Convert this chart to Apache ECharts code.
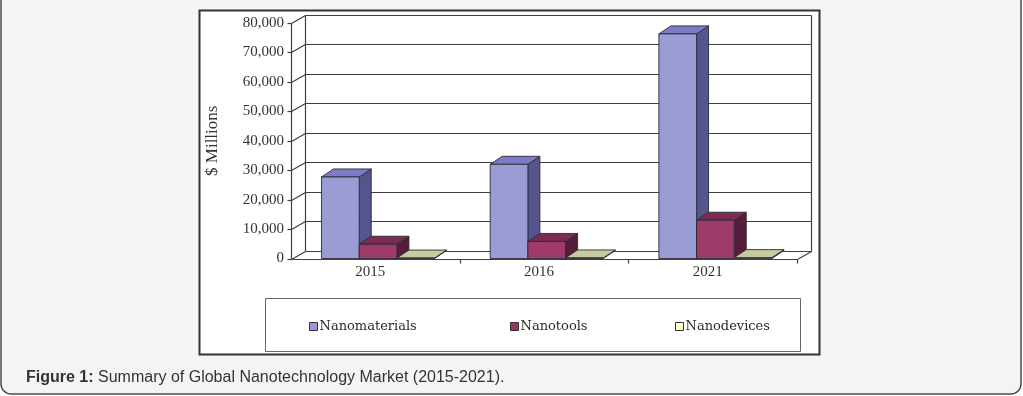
<!DOCTYPE html>
<html><head><meta charset="utf-8">
<script src="https://cdn.jsdelivr.net/npm/echarts@6/dist/echarts.min.js"></script>
<style>html,body{margin:0;padding:0;background:#fff}#c{width:1023px;height:396px}</style>
</head><body><div id="c"></div>
<script>
// ---- data ----
const categories = ['2015', '2016', '2021'];
const seriesNames = ['Nanomaterials', 'Nanotools', 'Nanodevices'];
const nanomaterials = [27700, 32000, 76300];
const nanotools = [4850, 5800, 13000];
const nanodevices = [150, 200, 300];
const yMin = 0, yMax = 80000, yStep = 10000;
const yAxisTitle = '$ Millions';
const captionBold = 'Figure 1:';
const captionText = ' Summary of Global Nanotechnology Market (2015-2021).';

// ---- style ----
const DX = 14, DY = -8;      // wall depth
const BDX = 12, BDY = -8;    // bar depth
const BAR_OFF = 0.181, BAR_W = 0.2235;
const EDGE = '#2b2b3a';
const palette = [
  { front: '#9c9cd4', top: '#7b7bc6', side: '#55558e', legend: '#9999dd' },
  { front: '#9e3b6b', top: '#7c2b52', side: '#561d3a', legend: '#993366' },
  { front: '#ffffcc', top: '#c9c99e', side: '#9c9c78', legend: '#ffffcc' }
];
const serif = 'Liberation Serif';

function frameRender(params, api) {
  const band = api.size([1, 0])[0];
  const L = Math.round(api.coord([0, 0])[0] - band / 2) + 0.5;
  const R = Math.round(api.coord([categories.length - 1, 0])[0] + band / 2) + 0.5;
  const children = [];
  const ln = (x1, y1, x2, y2) => children.push({ type: 'line', shape: { x1, y1, x2, y2 }, style: { stroke: '#404040', lineWidth: 1.2 } });
  const yOf = v => Math.round(api.coord([0, v])[1]) + 0.5;
  const y0 = yOf(yMin), yT = yOf(yMax);
  for (let v = yMin; v <= yMax; v += yStep) {
    const y = yOf(v);
    ln(L + DX, y + DY, R + DX, y + DY);
    ln(L, y, L + DX, y + DY);
    ln(L - 4, y, L, y);
  }
  ln(L, y0, L, yT);
  ln(L + DX, y0 + DY, L + DX, yT + DY);
  ln(R + DX, y0 + DY, R + DX, yT + DY);
  ln(L, y0, R, y0);
  ln(R, y0, R + DX, y0 + DY);
  for (let k = 1; k <= categories.length; k++) {
    const x = Math.round(L - 0.5 + k * band) + 0.5;
    ln(x, y0, x, y0 + 4);
  }
  return { type: 'group', children };
}

function barRender(si) {
  const c = palette[si];
  return function (params, api) {
    const cat = api.value(0), val = api.value(1);
    const band = api.size([1, 0])[0];
    const base = api.coord([cat, 0]);
    const top = api.coord([cat, val]);
    const w = band * BAR_W;
    const x0 = base[0] - band / 2 + band * BAR_OFF + si * w;
    const yb = base[1], yt = top[1];
    const st = f => ({ fill: f, stroke: EDGE, lineWidth: 0.9 });
    return {
      type: 'group', children: [
        { type: 'polygon', shape: { points: [[x0 + w, yt], [x0 + w, yb], [x0 + w + BDX, yb + BDY], [x0 + w + BDX, yt + BDY]] }, style: st(c.side) },
        { type: 'polygon', shape: { points: [[x0, yt], [x0 + w, yt], [x0 + w + BDX, yt + BDY], [x0 + BDX, yt + BDY]] }, style: st(c.top) },
        { type: 'rect', shape: { x: x0, y: yt, width: w, height: Math.max(0, yb - yt) }, style: st(c.front) }
      ]
    };
  };
}

const seriesData = [nanomaterials, nanotools, nanodevices];

const chart = echarts.init(document.getElementById('c'), null, { renderer: 'canvas' });
chart.setOption({
  animation: false,
  backgroundColor: '#ffffff',
  graphic: [
    { type: 'rect', z: 0, shape: { x: 1, y: -20, width: 1020, height: 414, r: 10 }, style: { fill: '#f3f5f5', stroke: '#4a4a4a', lineWidth: 1.5 } },
    { type: 'rect', z: 0, shape: { x: 199.5, y: 10.5, width: 620, height: 344 }, style: { fill: '#ffffff', stroke: '#333', lineWidth: 2 } },
    { type: 'rect', z: 0, shape: { x: 265.5, y: 298.5, width: 535, height: 53 }, style: { fill: '#ffffff', stroke: '#666', lineWidth: 1 } }
  ],
  title: {
    text: '{b|' + captionBold + '}' + captionText,
    left: 26, top: 370, padding: 0,
    textStyle: {
      fontFamily: 'Liberation Sans', fontSize: 16, fontWeight: 'normal', color: '#333',
      rich: { b: { fontFamily: 'Liberation Sans', fontSize: 16, fontWeight: 'bold', color: '#333' } }
    }
  },
  legend: [
    { left: 309, top: 320 },
    { left: 510, top: 320 },
    { left: 675, top: 320 }
  ].map((p, i) => ({
    data: [seriesNames[i]], left: p.left, top: p.top, padding: 0, icon: 'rect',
    itemWidth: 8, itemHeight: 8,
    itemStyle: { borderColor: '#333', borderWidth: 1 },
    textStyle: { fontFamily: 'DejaVu Serif', fontSize: 13, color: '#2a2a2a', padding: [0, 0, 0, -3] }
  })),
  grid: { left: 291, top: 23, width: 506, height: 235.5, containLabel: false },
  xAxis: {
    type: 'category', data: categories,
    axisLine: { show: false }, axisTick: { show: false }, splitLine: { show: false },
    axisLabel: { margin: 6, fontFamily: serif, fontSize: 15, color: '#333', padding: [0, 10, 0, 0] }
  },
  yAxis: {
    type: 'value', min: yMin, max: yMax, interval: yStep,
    name: yAxisTitle, nameLocation: 'middle', nameGap: 70, nameRotate: 90,
    nameTextStyle: { fontFamily: serif, fontSize: 17, color: '#333' },
    axisLine: { show: false }, axisTick: { show: false }, splitLine: { show: false },
    axisLabel: { margin: 7, fontFamily: serif, fontSize: 15, color: '#333', formatter: v => v.toLocaleString('en-US') }
  },
  series: [
    { name: '_frame', type: 'custom', z: 1, silent: true, renderItem: frameRender, data: [[0, 0]] }
  ].concat(seriesNames.map((n, i) => ({
    name: n, type: 'custom', z: 2, renderItem: barRender(i),
    itemStyle: { color: palette[i].legend },
    data: seriesData[i].map((v, k) => [k, v])
  })))
});
</script>
</body></html>
